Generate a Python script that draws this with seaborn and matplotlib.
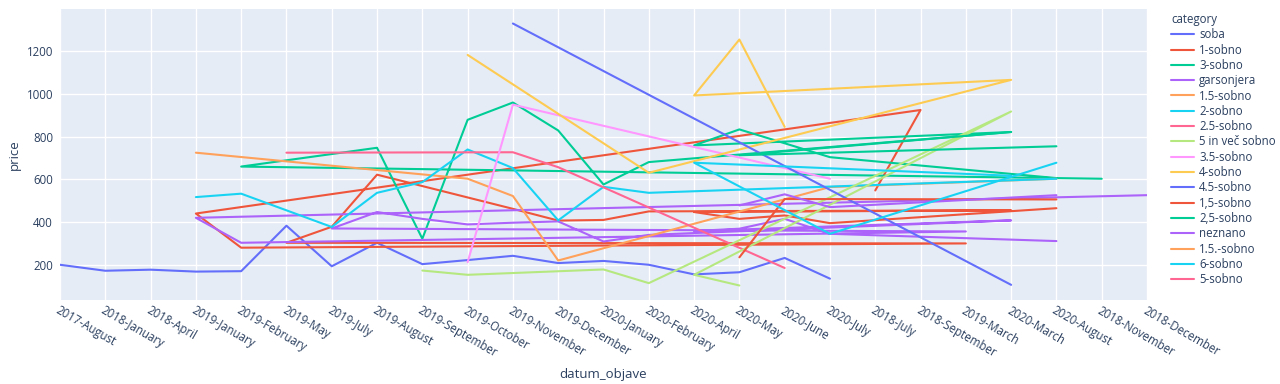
import pandas as pd
import matplotlib.pyplot as plt
import seaborn as sns

# values, one list of months and prices per category
soba_x = ['2017-August', '2018-January', '2018-April', '2019-January', '2019-February', '2019-May',
          '2019-July', '2019-August', '2019-September', '2019-October', '2019-November',
          '2019-December', '2020-January', '2020-February', '2020-April', '2020-May',
          '2020-June', '2020-July']
soba_y = [200, 172, 177, 168, 170, 383, 193, 303, 203, 222, 242, 208, 218, 200, 155, 165, 232, 135]

s1_x = ['2018-July', '2018-September', '2019-January', '2019-February', '2019-March', '2019-May',
        '2019-July', '2019-August', '2019-November', '2019-December', '2020-January',
        '2020-February', '2020-March', '2020-April', '2020-May', '2020-June', '2020-July',
        '2020-August']
s1_y = [548, 925, 440, 280, 300, 303, 378, 622, 462, 407, 410, 450, 455, 447, 415, 431, 395, 465]

s3_x = ['2018-November', '2019-February', '2019-August', '2019-September', '2019-October',
        '2019-November', '2019-December', '2020-January', '2020-February', '2020-March',
        '2020-April', '2020-May', '2020-July', '2020-August']
s3_y = [603, 660, 748, 322, 879, 960, 829, 576, 681, 822, 759, 834, 704, 606]

gars_x = ['2018-December', '2019-January', '2019-February', '2019-March', '2019-July', '2019-August',
          '2019-September', '2019-October', '2019-November', '2019-December', '2020-January',
          '2020-February', '2020-March', '2020-April', '2020-May', '2020-June', '2020-July',
          '2020-August']
gars_y = [526, 420, 303, 356, 370, 447, 415, 389, 397, 403, 309, 340, 408, 358, 369, 415, 345, 311]

s15_x = ['2019-January', '2019-October', '2019-November', '2019-December', '2020-July', '2020-August']
s15_y = [725, 603, 522, 220, 564, 603]

s2_x = ['2019-January', '2019-February', '2019-July', '2019-August', '2019-September', '2019-October',
        '2019-November', '2019-December', '2020-January', '2020-February', '2020-August']
s2_y = [517, 533, 377, 537, 587, 740, 653, 408, 565, 537, 603]

s25_x = ['2019-May', '2019-November', '2019-December', '2020-June']
s25_y = [725, 727, 657, 185]

s5v_x = ['2019-September', '2019-October', '2020-January', '2020-February', '2020-March',
         '2020-April', '2020-May']
s5v_y = [173, 153, 178, 114, 918, 153, 103]

s35_x = ['2019-October', '2019-November', '2020-July']
s35_y = [212, 950, 603]

s4_x = ['2019-October', '2020-February', '2020-March', '2020-April', '2020-May', '2020-June']
s4_y = [1183, 631, 1066, 993, 1255, 846]

s45_x = ['2019-November', '2020-March']
s45_y = [1330, 106]

s15c_x = ['2020-May', '2020-June', '2020-August']
s15c_y = [235, 508, 506]

s25c_x = ['2020-March', '2020-May', '2020-August']
s25c_y = [822, 713, 755]

nez_x = ['2020-May', '2020-June', '2020-July', '2020-August']
nez_y = [478, 530, 470, 526]

s15d_x = ['2020-March']
s15d_y = [500]

s6_x = ['2020-March', '2020-April', '2020-July', '2020-August']
s6_y = [617, 678, 345, 678]

s5_x = ['2020-May']
s5_y = [300]

series = [
    ('soba', soba_x, soba_y),
    ('1-sobno', s1_x, s1_y),
    ('3-sobno', s3_x, s3_y),
    ('garsonjera', gars_x, gars_y),
    ('1.5-sobno', s15_x, s15_y),
    ('2-sobno', s2_x, s2_y),
    ('2.5-sobno', s25_x, s25_y),
    ('5 in več sobno', s5v_x, s5v_y),
    ('3.5-sobno', s35_x, s35_y),
    ('4-sobno', s4_x, s4_y),
    ('4.5-sobno', s45_x, s45_y),
    ('1,5-sobno', s15c_x, s15c_y),
    ('2,5-sobno', s25c_x, s25c_y),
    ('neznano', nez_x, nez_y),
    ('1.5.-sobno', s15d_x, s15d_y),
    ('6-sobno', s6_x, s6_y),
    ('5-sobno', s5_x, s5_y),
]

rows = []
for name, xs, ys in series:
    for x, y in zip(xs, ys):
        rows.append((x, y, name))
df = pd.DataFrame(rows, columns=['datum_objave', 'price', 'category'])

plotly_colors = ['#636EFA', '#EF553B', '#00CC96', '#AB63FA', '#FFA15A', '#19D3F3',
                 '#FF6692', '#B6E880', '#FF97FF', '#FECB52']
names = [s[0] for s in series]
palette = {n: plotly_colors[i % len(plotly_colors)] for i, n in enumerate(names)}

sns.set_style('darkgrid', {'axes.facecolor': '#E5ECF6', 'grid.color': 'white'})
plt.rcParams['font.family'] = ['Open Sans', 'DejaVu Sans']
text_color = '#2a3f5f'

fig = plt.figure(figsize=(12.8, 3.84), dpi=100)
ax = fig.add_axes([60 / 1280, 1 - 300 / 384, 1087 / 1280, 291 / 384])

sns.lineplot(data=df, x='datum_objave', y='price', hue='category', hue_order=names,
             palette=palette, sort=False, estimator=None, linewidth=1.5, ax=ax)

ax.set_xlim(0, 24)
ax.set_ylim(35, 1398)
ax.set_yticks([200, 400, 600, 800, 1000, 1200])
ax.grid(True, color='white', linewidth=1)
for sp in ax.spines.values():
    sp.set_visible(False)

ax.tick_params(axis='both', length=0, colors=text_color, labelsize=8.3)
ax.tick_params(axis='y', pad=5)
ax.tick_params(axis='x', pad=3)
for lab in ax.get_xticklabels():
    lab.set_rotation(-30)
    lab.set_ha('left')
    lab.set_va('top')
    lab.set_rotation_mode('anchor')

ax.set_xlabel('datum_objave', fontsize=9.5, color=text_color)
ax.set_ylabel('price', fontsize=9.5, color=text_color)
ax.xaxis.set_label_coords(0.5, -0.235)
ax.yaxis.set_label_coords(-0.036, 0.5)

handles, labels = ax.get_legend_handles_labels()
ax.get_legend().remove()
leg = ax.legend(handles, labels, title='category', loc='upper left',
                bbox_to_anchor=(1.016, 1.01), frameon=False, fontsize=8.3,
                title_fontsize=8.3, labelspacing=0.2, handlelength=1.95,
                handletextpad=0.45, borderaxespad=0.2)
leg._legend_box.align = 'left'
for t in leg.get_texts():
    t.set_color(text_color)
leg.get_title().set_color(text_color)

fig.savefig('out.png', dpi=100)
